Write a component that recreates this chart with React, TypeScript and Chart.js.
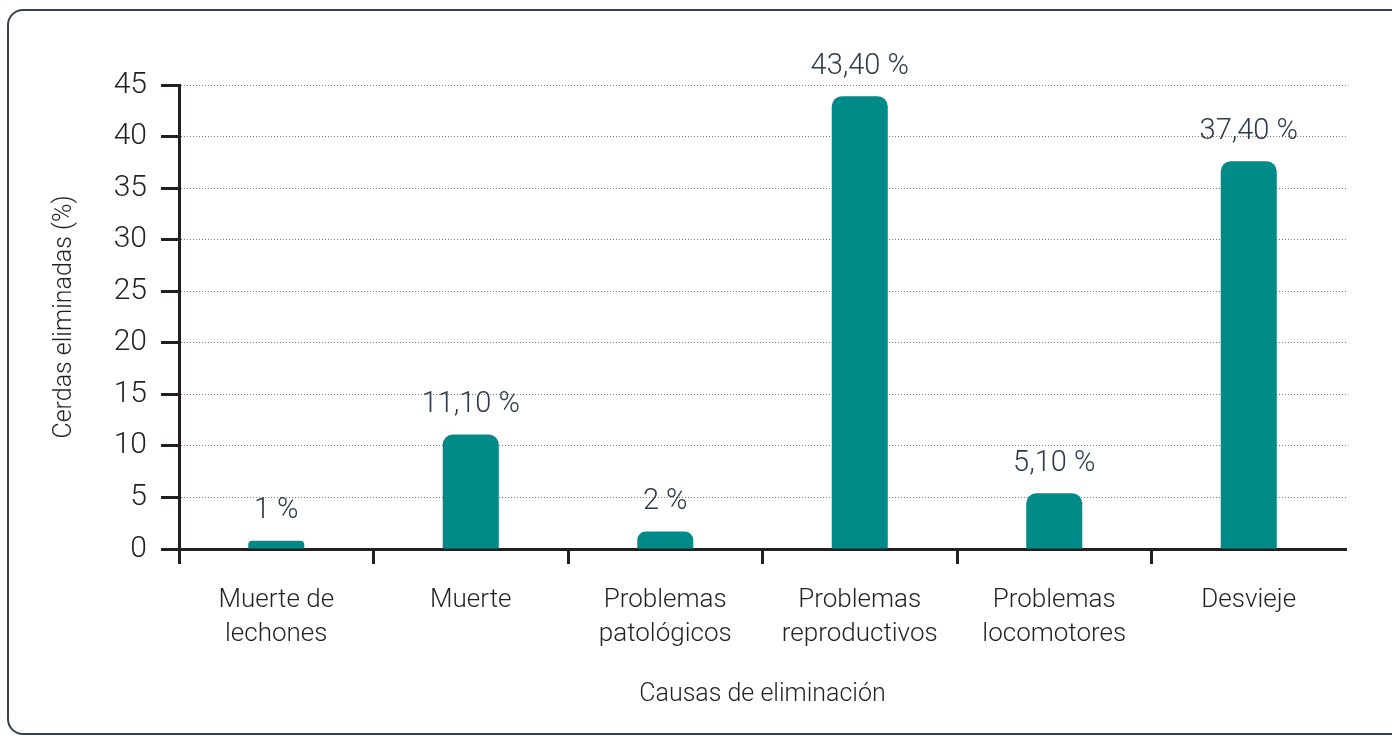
import React, { useEffect, useRef } from "react";
import { Chart, registerables } from "chart.js";

Chart.register(...registerables);

const categories: string[][] = [
  ["Muerte de", "lechones"],
  ["Muerte"],
  ["Problemas", "patológicos"],
  ["Problemas", "reproductivos"],
  ["Problemas", "locomotores"],
  ["Desvieje"],
];
const values: number[] = [0.8, 11.1, 1.7, 43.9, 5.4, 37.6];
const valueLabels: string[] = ["1 %", "11,10 %", "2 %", "43,40 %", "5,10 %", "37,40 %"];
const yTitle = "Cerdas eliminadas (%)";
const xTitle = "Causas de eliminación";

const FONT = "Roboto, 'DejaVu Sans', sans-serif";
const DARK = "#231f20";
const TEAL = "#008b89";

const overlayPlugin = {
  id: "overlay",
  afterDatasetsDraw(chart: any) {
    const ctx = chart.ctx;
    const area = chart.chartArea;
    const meta = chart.getDatasetMeta(0);
    ctx.save();
    ctx.fillStyle = "#2e3b4a";
    ctx.font = `300 29px ${FONT}`;
    ctx.textAlign = "center";
    ctx.textBaseline = "middle";
    meta.data.forEach((bar: any, i: number) => {
      ctx.fillText(valueLabels[i], bar.x, bar.y - 30);
    });
    ctx.fillStyle = DARK;
    ctx.font = `300 25px ${FONT}`;
    ctx.fillText(xTitle, (area.left + area.right) / 2, 695);
    ctx.translate(65, (area.top + area.bottom) / 2);
    ctx.rotate(-Math.PI / 2);
    ctx.fillText(yTitle, 0, 0);
    ctx.restore();
  },
};

export default function App() {
  const ref = useRef<HTMLCanvasElement | null>(null);
  useEffect(() => {
    document.body.style.margin = "0";
    const chart = new Chart(ref.current as HTMLCanvasElement, {
      type: "bar",
      data: {
        labels: categories,
        datasets: [
          {
            data: values,
            backgroundColor: TEAL,
            borderRadius: { topLeft: 10, topRight: 10, bottomLeft: 0, bottomRight: 0 },
            borderSkipped: false,
            barPercentage: 0.576,
            categoryPercentage: 0.5,
          },
        ],
      },
      options: {
        animation: false,
        responsive: false,
        maintainAspectRatio: false,
        layout: { padding: { left: 0, right: 46, top: 85, bottom: 0 } },
        plugins: { legend: { display: false }, tooltip: { enabled: false } },
        scales: {
          x: {
            afterFit: (s: any) => {
              s.height = 188;
            },
            border: { display: true, color: DARK, width: 3 },
            grid: {
              offset: true,
              drawOnChartArea: false,
              drawTicks: true,
              tickLength: 15,
              tickWidth: 3,
              tickColor: (c: any) => (c.tick ? DARK : "rgba(0,0,0,0)"),
            },
            ticks: {
              color: DARK,
              font: { family: FONT, size: 26, weight: "300", lineHeight: "34px" } as any,
              padding: 19,
              maxRotation: 0,
              autoSkip: false,
            },
          },
          y: {
            min: 0,
            max: 45,
            afterFit: (s: any) => {
              s.width = 179;
            },
            border: { display: true, color: DARK, width: 3, dash: [1, 2] } as any,
            grid: {
              color: "#7a7a7a",
              lineWidth: 1,
              drawTicks: true,
              tickLength: 18,
              tickWidth: 3,
              tickColor: DARK,
              tickBorderDash: [],
            } as any,
            ticks: {
              stepSize: 5,
              color: DARK,
              font: { family: FONT, size: 30, weight: "300" } as any,
              padding: 14,
            },
          },
        },
      },
      plugins: [overlayPlugin],
    });
    return () => chart.destroy();
  }, []);
  return (
    <div style={{ position: "fixed", left: 0, top: 0, width: 1392, height: 737, background: "#fff", overflow: "hidden" }}>
      <div
        style={{
          position: "absolute",
          left: 7,
          top: 9,
          width: 1420,
          height: 722,
          border: "2px solid #33414f",
          borderRadius: 16,
        }}
      />
      <canvas ref={ref} width={1392} height={737} style={{ position: "absolute", left: 0, top: 0 }} />
    </div>
  );
}
